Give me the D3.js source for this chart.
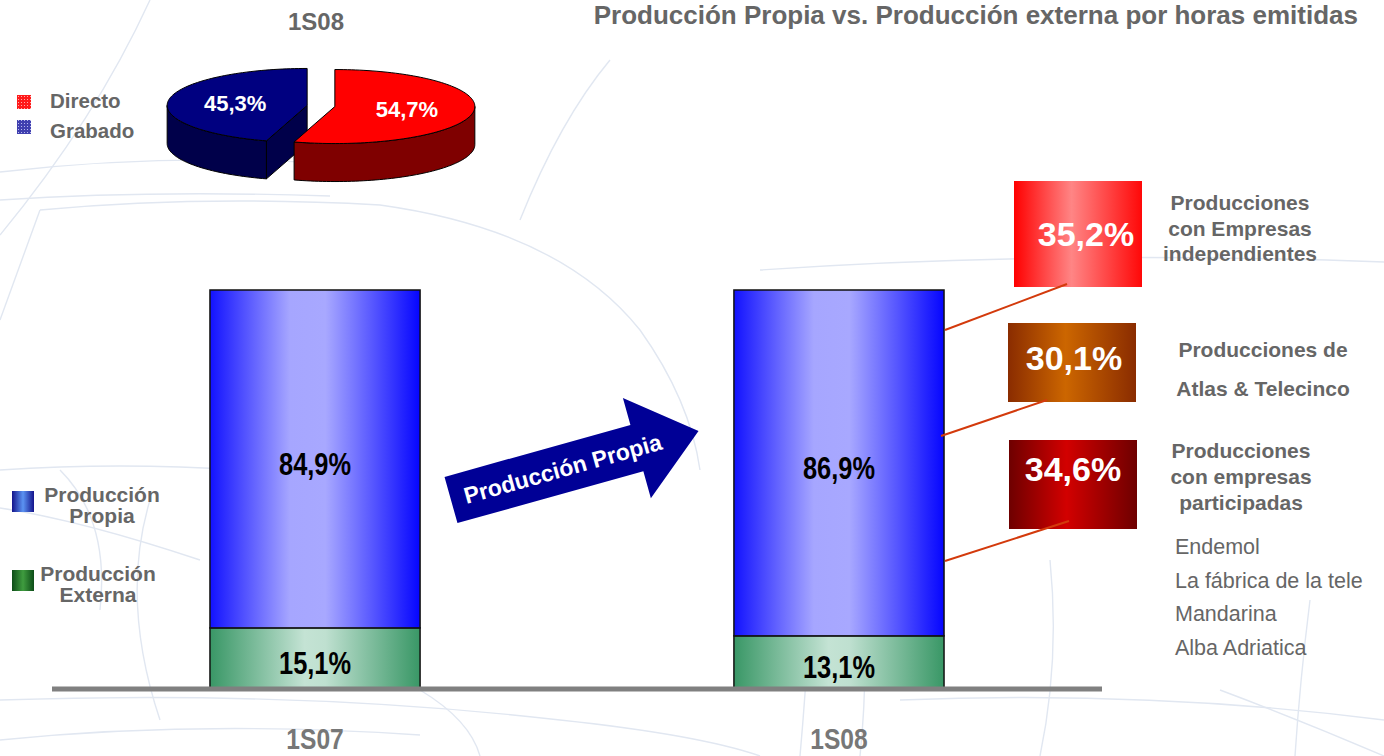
<!DOCTYPE html>
<html>
<head>
<meta charset="utf-8">
<script src="https://cdn.jsdelivr.net/npm/d3@7"></script>
<style>
  html, body { margin: 0; padding: 0; background: #ffffff; }
  svg { display: block; }
  text { font-family: "Liberation Sans", Arial, sans-serif; }
</style>
</head>
<body>
<svg id="chart" width="1384" height="756"></svg>
<script>
// ---- Data ----
const categories = ["1S07", "1S08"];
const propia = [84.9, 86.9];
const externa = [15.1, 13.1];
const seriesNames = ["Producción Propia", "Producción Externa"];

const pieCategories = ["Directo", "Grabado"];
const pieValues = [54.7, 45.3];
const pieTitle = "1S08";

const breakdownValues = [35.2, 30.1, 34.6];
const breakdownLabels = [
  ["Producciones", "con Empresas", "independientes"],
  ["Producciones de", "Atlas & Telecinco"],
  ["Producciones", "con empresas", "participadas"]
];
const participadas = ["Endemol", "La fábrica de la tele", "Mandarina", "Alba Adriatica"];

const title = "Producción Propia vs. Producción externa por horas emitidas";
const arrowLabel = "Producción Propia";

const fmt = v => d3.format(".1f")(v).replace(".", ",") + "%";
const gray = "#666666";

const svg = d3.select("#chart");
const defs = svg.append("defs");

function hGrad(id, stops) {
  const g = defs.append("linearGradient").attr("id", id)
    .attr("x1", "0%").attr("x2", "100%").attr("y1", "0%").attr("y2", "0%");
  stops.forEach(([o, c]) => g.append("stop").attr("offset", o).attr("stop-color", c));
}
hGrad("gBlue", [[0, "#1212ff"], [0.38, "#a6a6ff"], [0.55, "#a8a8ff"], [1, "#0505ff"]]);
hGrad("gGreen", [[0, "#399766"], [0.45, "#c4e3d4"], [0.55, "#bfe0d0"], [1, "#399766"]]);
hGrad("gLegBlue", [[0, "#14148c"], [0.5, "#5b93f2"], [1, "#14148c"]]);
hGrad("gLegGreen", [[0, "#0d4d18"], [0.5, "#3f9c3f"], [1, "#0d4d18"]]);
hGrad("gBox0", [[0, "#ff0000"], [0.45, "#ff8585"], [1, "#ff0808"]]);
hGrad("gBox1", [[0, "#8a2c00"], [0.45, "#cc6600"], [1, "#8a2c00"]]);
hGrad("gBox2", [[0, "#6e0000"], [0.45, "#d20000"], [1, "#6e0000"]]);

// dotted swatches for the pie legend
function dotPattern(id, base, dot) {
  const p = defs.append("pattern").attr("id", id).attr("patternUnits", "userSpaceOnUse")
    .attr("width", 3).attr("height", 3);
  p.append("rect").attr("width", 3).attr("height", 3).attr("fill", base);
  p.append("rect").attr("width", 1).attr("height", 1).attr("fill", dot);
}
dotPattern("pRed", "#ff1a1a", "#ffaaaa");
dotPattern("pBlue", "#4040b0", "#b8b8ee");

// condensed bold label: regular face squeezed horizontally around its anchor
function narrowText(sel, x, y, size, fill, txt) {
  sel.append("g").attr("transform", `translate(${x},${y})`)
    .append("text").attr("transform", "scale(0.82,1)")
    .attr("text-anchor", "middle").attr("font-size", size).attr("font-weight", "bold")
    .attr("fill", fill).text(txt);
}

// ---- Decorative backdrop strokes ----
const backdrop = svg.append("g").attr("fill", "none").attr("stroke", "#e1e7f1").attr("stroke-width", 1.4);
[
  "M150,0 Q95,120 0,235",
  "M0,172 Q190,150 390,168",
  "M0,200 Q150,190 330,196",
  "M40,210 Q200,195 380,205 Q560,230 640,330 Q690,400 700,470",
  "M40,210 L0,320",
  "M0,470 Q120,462 240,470 Q320,480 400,520",
  "M60,470 Q110,520 100,610",
  "M0,508 Q80,520 200,560",
  "M150,500 Q120,600 160,720",
  "M0,700 Q300,690 560,720 Q700,735 760,756",
  "M0,740 Q200,720 420,735",
  "M610,60 Q560,120 520,220",
  "M760,270 Q1050,250 1384,262",
  "M780,300 Q830,420 800,756",
  "M860,560 Q870,660 860,756",
  "M1050,560 Q1060,660 1040,756",
  "M1310,600 Q1300,680 1295,756",
  "M900,700 Q1150,690 1384,720",
  "M1220,690 Q1300,720 1384,756",
  "M420,690 Q470,720 480,756"
].forEach(d => backdrop.append("path").attr("d", d));

// ---- Title ----
svg.append("text").attr("x", 1358).attr("y", 24).attr("text-anchor", "end")
  .attr("font-size", 26).attr("font-weight", "bold").attr("fill", gray).text(title);

// ---- Stacked bars ----
const x = d3.scaleBand().domain(categories).range([52, 1102])
  .paddingInner(0.599).paddingOuter(0.3015);
const y = d3.scaleLinear().domain([0, 100]).range([688, 290]);

const rows = categories.map((c, i) => ({ cat: c, externa: externa[i], propia: propia[i] }));
const stack = d3.stack().keys(["externa", "propia"])(rows);
const fills = { externa: "url(#gGreen)", propia: "url(#gBlue)" };

const bars = svg.append("g");
stack.forEach(layer => {
  bars.selectAll(null).data(layer).join("rect")
    .attr("x", d => x(d.data.cat))
    .attr("y", d => y(d[1]))
    .attr("width", x.bandwidth())
    .attr("height", d => y(d[0]) - y(d[1]))
    .attr("fill", fills[layer.key])
    .attr("stroke", "#111").attr("stroke-width", 1.5);
});
stack.forEach(layer => {
  layer.forEach(d => narrowText(bars,
    x(d.data.cat) + x.bandwidth() / 2, (y(d[0]) + y(d[1])) / 2 + 16,
    31, "#000", fmt(d.data[layer.key])));
});

// baseline
svg.append("line").attr("x1", 52).attr("x2", 1102).attr("y1", y(0) + 1).attr("y2", y(0) + 1)
  .attr("stroke", "#808080").attr("stroke-width", 5);

// category labels
const catG = svg.append("g");
categories.forEach(c => narrowText(catG, x(c) + x.bandwidth() / 2, 749, 30, "#777", c));

// bar legend
const legend = svg.append("g");
const legItems = [
  { fill: "url(#gLegBlue)", y: 491, lines: ["Producción", "Propia"], cx: 102 },
  { fill: "url(#gLegGreen)", y: 570, lines: ["Producción", "Externa"], cx: 98 }
];
legItems.forEach(it => {
  legend.append("rect").attr("x", 12).attr("y", it.y).attr("width", 22).attr("height", 21).attr("fill", it.fill);
  legend.append("text").attr("text-anchor", "middle").attr("font-size", 21).attr("font-weight", "bold")
    .attr("fill", gray)
    .selectAll("tspan").data(it.lines).join("tspan")
    .attr("x", it.cx).attr("y", (d, j) => it.y + 11 + j * 21).text(d => d);
});

// ---- Arrow ----
const ax0 = 451, ay0 = 500, angle = -15.6;
const arrowShape = [[0, -24], [193, -24], [193, -52], [257, 0], [193, 52], [193, 24], [0, 24]];
const arrow = svg.append("g").attr("transform", `translate(${ax0},${ay0}) rotate(${angle})`);
arrow.append("path").attr("d", d3.line()(arrowShape) + "Z").attr("fill", "#000096");
arrow.append("text").attr("x", 116).attr("y", 8).attr("text-anchor", "middle")
  .attr("font-size", 23).attr("font-weight", "bold").attr("fill", "#fff").text(arrowLabel);

// ---- 3D pie ----
const pcx = 321, pcy = 106, rx = 140, ry = 37, depth = 38, explode = 14;
const pieColors = { Directo: ["#ff0000", "#7f0000"], Grabado: ["#000080", "#00004a"] };
const arcs = d3.pie().sort(null).startAngle(0).value(d => d.v)(
  pieCategories.map((c, i) => ({ c, v: pieValues[i] })));
arcs.forEach(a => {
  const mid = (a.startAngle + a.endAngle) / 2;
  a.ox = explode * Math.sin(mid);
  a.oy = -explode * Math.cos(mid) * ry / rx;
  a.mid = mid;
});
const pieG = svg.append("g").attr("stroke", "#000").attr("stroke-width", 1).attr("stroke-linejoin", "round");
const ept = (a, t, dz = 0) => [pcx + a.ox + rx * Math.sin(t), pcy + a.oy - ry * Math.cos(t) + dz];
const arcPts = (a, t0, t1, dz = 0) => {
  const n = Math.max(2, Math.ceil((t1 - t0) / 0.03));
  return d3.range(n + 1).map(k => ept(a, t0 + (t1 - t0) * k / n, dz));
};
arcs.slice().sort((p, q) => p.oy - q.oy).forEach(a => {
  const [topC, sideC] = pieColors[a.data.c];
  const c = [pcx + a.ox, pcy + a.oy];
  // cut faces turned towards the viewer
  [[a.startAngle, Math.sin(a.startAngle) < -1e-6], [a.endAngle, Math.sin(a.endAngle) > 1e-6]]
    .forEach(([t, vis]) => {
      if (!vis) return;
      const p = ept(a, t);
      pieG.append("path").attr("fill", sideC)
        .attr("d", d3.line()([c, p, [p[0], p[1] + depth], [c[0], c[1] + depth]]) + "Z");
    });
  // outer wall (front half only)
  const w0 = Math.max(a.startAngle, Math.PI / 2), w1 = Math.min(a.endAngle, 3 * Math.PI / 2);
  if (w1 > w0) {
    const pts = arcPts(a, w0, w1).concat(arcPts(a, w0, w1, depth).reverse());
    pieG.append("path").attr("fill", sideC).attr("d", d3.line()(pts) + "Z");
  }
  // top face
  pieG.append("path").attr("fill", topC)
    .attr("d", d3.line()([c].concat(arcPts(a, a.startAngle, a.endAngle))) + "Z");
});
svg.append("g").selectAll("text").data(arcs).join("text")
  .attr("x", a => pcx + a.ox + 0.52 * rx * Math.sin(a.mid))
  .attr("y", a => pcy + a.oy - 0.52 * ry * Math.cos(a.mid) + 8)
  .attr("text-anchor", "middle").attr("font-size", 22).attr("font-weight", "bold")
  .attr("fill", "#fff").text(a => fmt(a.data.v));

svg.append("text").attr("x", 316).attr("y", 30).attr("text-anchor", "middle")
  .attr("font-size", 24).attr("font-weight", "bold").attr("fill", gray).text(pieTitle);

// pie legend
const pieLeg = svg.append("g");
pieCategories.forEach((c, i) => {
  pieLeg.append("rect").attr("x", 17).attr("y", 95 + i * 25).attr("width", 14).attr("height", 14)
    .attr("fill", i === 0 ? "url(#pRed)" : "url(#pBlue)");
  pieLeg.append("text").attr("x", 50).attr("y", 108 + i * 30).attr("font-size", 20.5)
    .attr("font-weight", "bold").attr("fill", gray).text(c);
});

// ---- Breakdown of the 1S08 own production ----
const boxes = [
  { x: 1014, y: 181, w: 128, h: 106, tx: 1086, ty: 246, lx: 1240, ly: [210, 236, 261], link: [[1067, 284], [945, 330]] },
  { x: 1008, y: 323, w: 128, h: 79, tx: 1074, ty: 370, lx: 1263, ly: [357, 396], link: [[1047, 400], [941, 436]] },
  { x: 1009, y: 440, w: 128, h: 89, tx: 1073, ty: 481, lx: 1241, ly: [458, 484, 510], link: [[1069, 521], [945, 561]] }
];
const bd = svg.append("g");
boxes.forEach((b, i) => {
  bd.append("rect").attr("x", b.x).attr("y", b.y).attr("width", b.w).attr("height", b.h)
    .attr("fill", `url(#gBox${i})`);
  bd.append("text").attr("x", b.tx).attr("y", b.ty).attr("text-anchor", "middle")
    .attr("font-size", 34).attr("font-weight", "bold").attr("fill", "#fff").text(fmt(breakdownValues[i]));
  bd.append("line").attr("x1", b.link[0][0]).attr("y1", b.link[0][1])
    .attr("x2", b.link[1][0]).attr("y2", b.link[1][1])
    .attr("stroke", "#d33a0c").attr("stroke-width", 2);
  bd.append("text").attr("text-anchor", "middle").attr("font-size", 21).attr("font-weight", "bold")
    .attr("fill", gray)
    .selectAll("tspan").data(breakdownLabels[i]).join("tspan")
    .attr("x", b.lx).attr("y", (d, j) => b.ly[j]).text(d => d);
});

svg.append("g").selectAll("text").data(participadas).join("text")
  .attr("x", 1175).attr("y", (d, i) => 554 + i * 33.5)
  .attr("font-size", 21.5).attr("fill", gray).text(d => d);
</script>
</body>
</html>
